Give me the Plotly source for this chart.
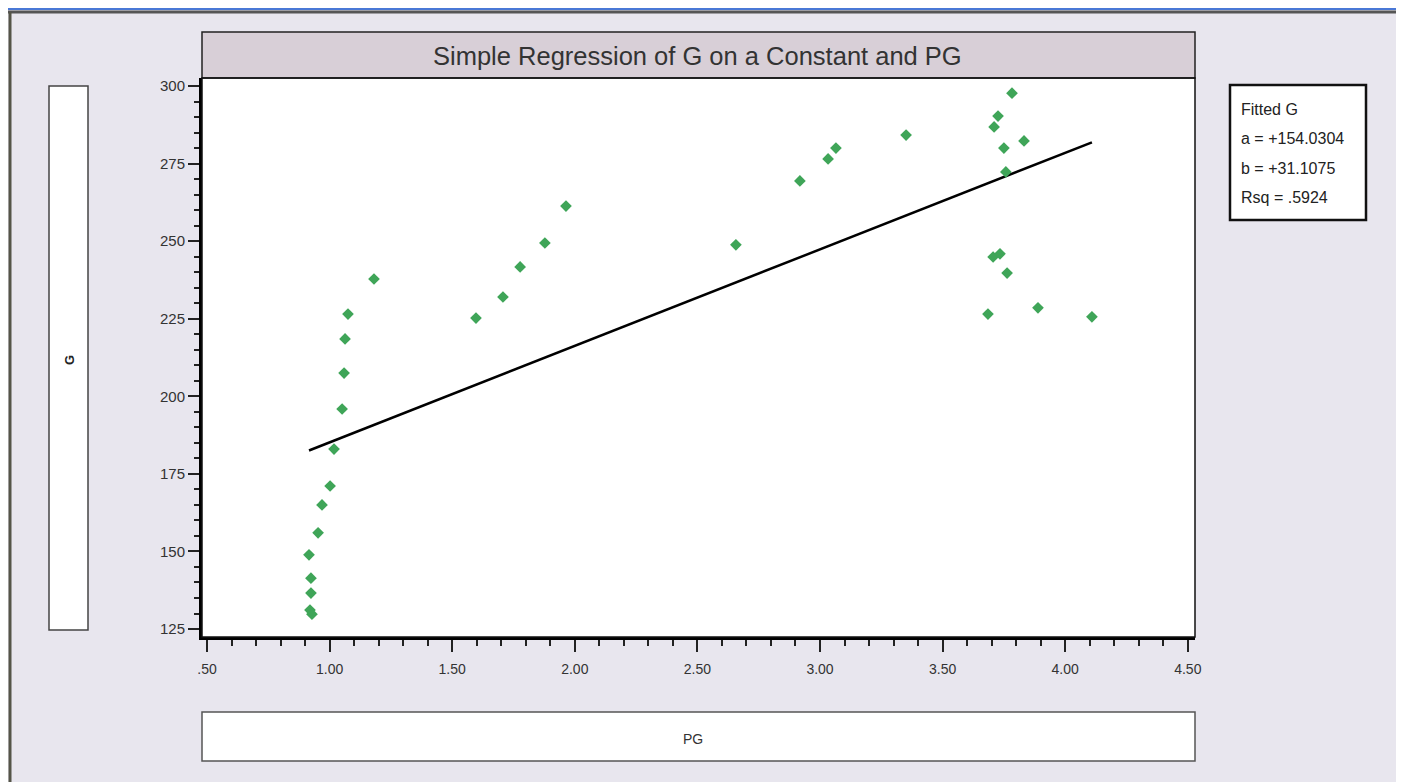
import plotly.graph_objects as go

# ---- data ----
pg = [3.783, 3.726, 3.710, 3.832, 3.750, 3.758, 3.351, 3.065, 3.033, 2.918,
      2.657, 3.706, 3.734, 3.763, 3.685, 3.889, 4.109,
      1.181, 1.075, 1.063, 1.059, 1.051, 1.018, 1.002, 0.969, 0.953, 0.916,
      0.924, 0.924, 0.920, 0.928,
      1.597, 1.707, 1.777, 1.878, 1.964]
g = [297.7, 290.3, 286.8, 282.3, 280.0, 272.3, 284.2, 280.0, 276.5, 269.4,
     248.8, 244.9, 245.9, 239.7, 226.5, 228.5, 225.6,
     237.8, 226.5, 218.5, 207.5, 195.9, 183.0, 171.1, 165.0, 156.0, 148.9,
     141.4, 136.6, 131.1, 129.8,
     225.2, 232.0, 241.7, 249.4, 261.3]
coef_a = 154.0304
coef_b = 31.1075
rsq = 0.5924
x_ticks = [0.5, 1.0, 1.5, 2.0, 2.5, 3.0, 3.5, 4.0, 4.5]
x_ticktext = [".50", "1.00", "1.50", "2.00", "2.50", "3.00", "3.50", "4.00", "4.50"]
y_ticks = [125, 150, 175, 200, 225, 250, 275, 300]

fit_x = [min(pg), max(pg)]
fit_y = [coef_a + coef_b * v for v in fit_x]

OFF = 8  # page body margin
W, H = 1404 - OFF, 782 - OFF
L, R, T, B = 202, 1195, 78, 637  # plot area in screenshot pixels

def px(x):
    return (x - L) / (R - L)

def py(y):
    return (B - y) / (B - T)

fig = go.Figure()
fig.add_trace(go.Scatter(x=fit_x, y=fit_y, mode="lines",
                         line=dict(color="black", width=2.5), hoverinfo="skip"))
fig.add_trace(go.Scatter(x=pg, y=g, mode="markers",
                         marker=dict(symbol="diamond", size=9, color="#3fa558",
                                     line=dict(width=0))))

bg = "#e8e6ee"
shapes = []
# outer window borders
shapes.append(dict(type="line", xref="paper", yref="paper", x0=px(0), x1=px(1420), y0=py(9), y1=py(9),
                   line=dict(color="#4a78d6", width=2), layer="below"))
shapes.append(dict(type="line", xref="paper", yref="paper", x0=px(0), x1=px(1420), y0=py(12), y1=py(12),
                   line=dict(color="#555555", width=3), layer="below"))
shapes.append(dict(type="line", xref="paper", yref="paper", x0=px(10), x1=px(10), y0=py(12), y1=py(790),
                   line=dict(color="#555548", width=3), layer="below"))
# title bar
shapes.append(dict(type="rect", xref="paper", yref="paper", x0=px(202), x1=px(1195), y0=py(78), y1=py(32),
                   fillcolor="#d8cfd7", line=dict(color="#222222", width=1.5), layer="below"))
# y label box
shapes.append(dict(type="rect", xref="paper", yref="paper", x0=px(49), x1=px(88), y0=py(630), y1=py(86),
                   fillcolor="white", line=dict(color="#444444", width=1.5), layer="below"))
# x label box
shapes.append(dict(type="rect", xref="paper", yref="paper", x0=px(202), x1=px(1195), y0=py(761), y1=py(712),
                   fillcolor="white", line=dict(color="#555555", width=1.5), layer="below"))
# legend box
shapes.append(dict(type="rect", xref="paper", yref="paper", x0=px(1230), x1=px(1366), y0=py(220), y1=py(85),
                   fillcolor="white", line=dict(color="#111111", width=2.5), layer="below"))
# plot frame top/right
shapes.append(dict(type="rect", xref="paper", yref="paper", x0=0, x1=1, y0=0, y1=1,
                   line=dict(color="#111111", width=1.5), layer="above"))

annotations = [
    dict(text="Simple Regression of G on a Constant and PG", xref="paper", yref="paper",
         x=px(697), y=py(56), showarrow=False, font=dict(family="Arial", size=25.5, color="#333333"),
         xanchor="center", yanchor="middle"),
    dict(text="<b>G</b>", xref="paper", yref="paper", x=px(69), y=py(360), showarrow=False,
         textangle=-90, font=dict(family="Arial", size=13, color="#222222"),
         xanchor="center", yanchor="middle"),
    dict(text="PG", xref="paper", yref="paper", x=px(693), y=py(739), showarrow=False,
         font=dict(family="Arial", size=14, color="#333333"), xanchor="center", yanchor="middle"),
]
legend_lines = ["Fitted G", "a = +%.4f" % coef_a, "b = +%.4f" % coef_b, "Rsq = " + ("%.4f" % rsq)[1:]]
for i, t in enumerate(legend_lines):
    annotations.append(dict(text=t, xref="paper", yref="paper", x=px(1239), y=py(109 + 29.5 * i),
                            showarrow=False, font=dict(family="Arial", size=16, color="#222222"),
                            xanchor="left", yanchor="middle"))

fig.update_layout(
    width=W, height=H,
    margin=dict(l=L - OFF, r=(W + OFF) - R, t=T - OFF, b=(H + OFF) - B, pad=0),
    paper_bgcolor=bg, plot_bgcolor="white",
    showlegend=False,
    shapes=shapes, annotations=annotations,
    xaxis=dict(range=[0.5 - 5 / 245.2, 0.5 + 988 / 245.2], tickvals=x_ticks, ticktext=x_ticktext,
               showgrid=False, zeroline=False, showline=True, linecolor="black", linewidth=3,
               ticks="outside", ticklen=12, tickwidth=1.5, tickcolor="#222222",
               ticklabelstandoff=5,
               minor=dict(dtick=0.1, tick0=0.5, ticks="outside", ticklen=6, tickwidth=1.5,
                          tickcolor="#222222", showgrid=False),
               tickfont=dict(family="Arial", size=14, color="#333333")),
    yaxis=dict(range=[300 - 551 / 3.103, 300 + 8 / 3.103], tickvals=y_ticks,
               showgrid=False, zeroline=False, showline=True, linecolor="black", linewidth=3,
               ticks="outside", ticklen=11, tickwidth=1.5, tickcolor="#222222",
               minor=dict(dtick=5, tick0=125, ticks="outside", ticklen=5, tickwidth=1.5,
                          tickcolor="#222222", showgrid=False),
               tickfont=dict(family="Arial", size=15, color="#333333")),
)

fig.write_html("out.html")
